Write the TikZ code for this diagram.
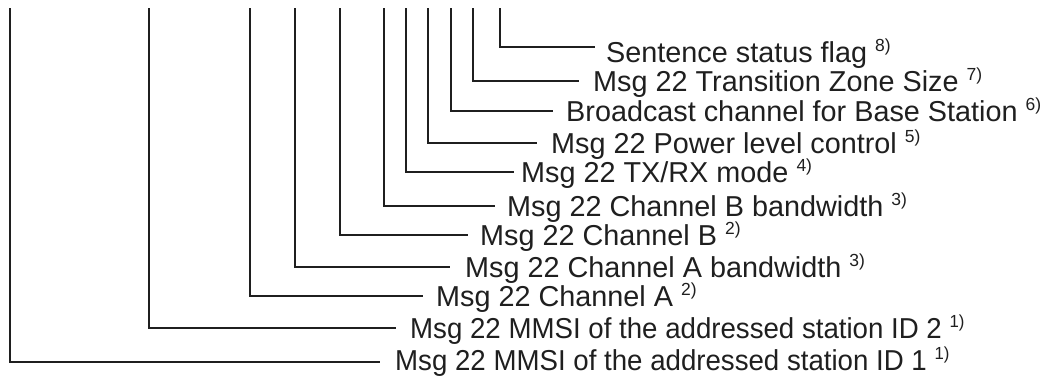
\documentclass[tikz,border=0pt]{standalone}
\usepackage{fontspec}
\setmainfont{Liberation Sans}
\newcommand{\fn}[1]{\hspace{8pt}\raisebox{11pt}{\fontsize{17.5}{19}\selectfont #1}}
\begin{document}
\begin{tikzpicture}[x=1pt,y=-1pt,
  conn/.style={draw=black!88,line width=1.7pt},
  lbl/.style={anchor=base west,inner sep=0pt,
    font=\fontsize{28.8}{31}\selectfont,text=black!88}]
\useasboundingbox (0,0) rectangle (1053,376);
% vertical tops
\coordinate (v1) at (10,8);
\coordinate (v2) at (149,8);
\coordinate (v3) at (250,8);
\coordinate (v4) at (295,8);
\coordinate (v5) at (340,8);
\coordinate (v6) at (384,8);
\coordinate (v7) at (406,8);
\coordinate (v8) at (428,8);
\coordinate (v9) at (451,8);
\coordinate (v10) at (473,8);
\coordinate (v11) at (500,8);
% labels (baseline = line height + 10.3)
\node[lbl] (t11) at (606,62.3) {Sentence status flag\fn{8)}};
\node[lbl] (t10) at (593,91.3) {Msg 22 Transition Zone Size\fn{7)}};
\node[lbl] (t9) at (566,121.3) {Broadcast channel for Base Station\fn{6)}};
\node[lbl] (t8) at (551,153.3) {Msg 22 Power level control\fn{5)}};
\node[lbl] (t7) at (521,182.3) {Msg 22 TX/RX mode\fn{4)}};
\node[lbl] (t6) at (507,216.3) {Msg 22 Channel B bandwidth\fn{3)}};
\node[lbl] (t5) at (480,245.3) {Msg 22 Channel B\fn{2)}};
\node[lbl] (t4) at (465,277.3) {Msg 22 Channel A bandwidth\fn{3)}};
\node[lbl] (t3) at (436,306.3) {Msg 22 Channel A\fn{2)}};
\node[lbl] (t2) at (410,338.3) {\scalebox{0.96}[1]{Msg 22 MMSI of the addressed station ID 2\fn{1)}}};
\node[lbl] (t1) at (395,370.3) {\scalebox{0.96}[1]{Msg 22 MMSI of the addressed station ID 1\fn{1)}}};
% connectors
\draw[conn] (v11) |- ([xshift=-11pt,yshift=15.3pt]t11.base west);
\draw[conn] (v10) |- ([xshift=-14pt,yshift=10.3pt]t10.base west);
\draw[conn] (v9) |- ([xshift=-13pt,yshift=10.3pt]t9.base west);
\draw[conn] (v8) |- ([xshift=-14pt,yshift=10.3pt]t8.base west);
\draw[conn] (v7) |- ([xshift=-7pt,yshift=10.3pt]t7.base west);
\draw[conn] (v6) |- ([xshift=-12pt,yshift=10.3pt]t6.base west);
\draw[conn] (v5) |- ([xshift=-12pt,yshift=10.3pt]t5.base west);
\draw[conn] (v4) |- ([xshift=-15pt,yshift=10.3pt]t4.base west);
\draw[conn] (v3) |- ([xshift=-13pt,yshift=10.3pt]t3.base west);
\draw[conn] (v2) |- ([xshift=-14pt,yshift=10.3pt]t2.base west);
\draw[conn] (v1) |- ([xshift=-15pt,yshift=8.3pt]t1.base west);
\end{tikzpicture}
\end{document}
